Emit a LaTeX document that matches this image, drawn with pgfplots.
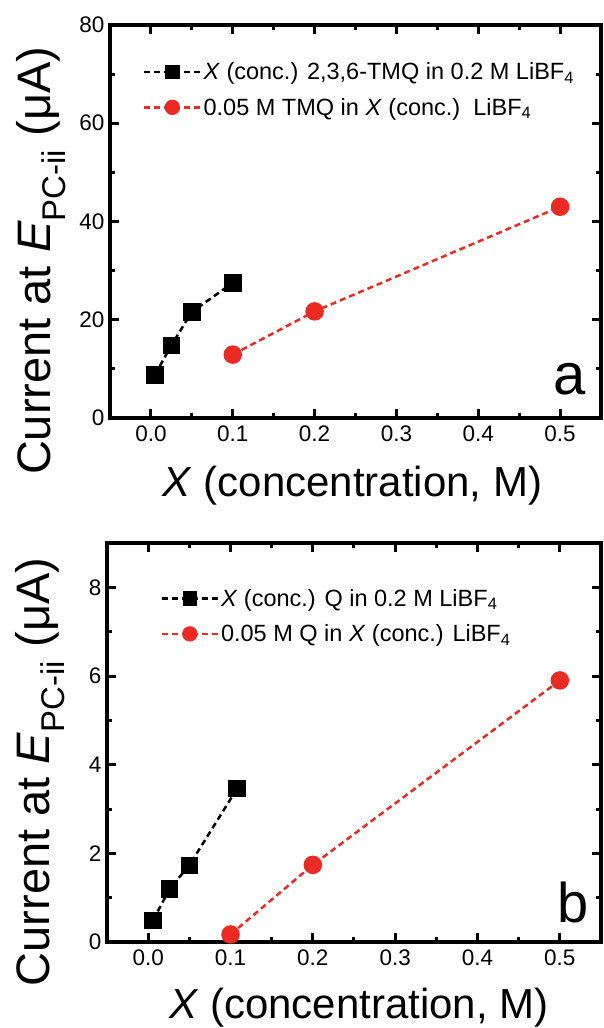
\documentclass[border=0pt]{standalone}
\usepackage{fontspec}
\setmainfont{Liberation Sans}
\usepackage{pgfplots}
\pgfplotsset{compat=1.18}
\definecolor{myred}{RGB}{235,42,36}

\pgfplotstableread{
x y
0.005 8.8
0.025 14.8
0.05 21.6
0.1 27.5
}\tmqblack
\pgfplotstableread{
x y
0.1 12.9
0.2 21.7
0.5 43.0
}\tmqred
\pgfplotstableread{
x y
0.006 0.49
0.026 1.20
0.05 1.73
0.108 3.46
}\qblack
\pgfplotstableread{
x y
0.1 0.17
0.2 1.74
0.5 5.90
}\qred

\pgfplotsset{
  myaxis/.style={
    scale only axis,
    xmin=-0.05, xmax=0.55,
    xtick={0,0.1,0.2,0.3,0.4,0.5},
    minor xtick={-0.05,0.05,0.15,0.25,0.35,0.45,0.55},
    tick align=inside,
    xtick pos=both, ytick pos=both,
    axis line style={line width=3.5pt},
    major tick length=9pt, minor tick length=5pt,
    every tick/.style={black, line width=3pt},
    /pgf/number format/assume math mode=true,
    xticklabel style={/pgf/number format/.cd, fixed, fixed zerofill, precision=1, /tikz/.cd,
      font=\fontsize{22.5}{22.5}\selectfont, yshift=-4pt},
    yticklabel style={font=\fontsize{22.5}{22.5}\selectfont, xshift=-2pt},
    xlabel style={font=\fontsize{42}{42}\selectfont},
    ylabel style={font=\fontsize{47}{47}\selectfont},
    legend cell align=left,
    legend style={draw=none, fill=none, font=\fontsize{23.5}{23.5}\selectfont,
      row sep=13pt, inner sep=0pt},
    legend image code/.code={
      \draw[mark repeat=2,mark phase=2,##1, every mark/.append style={scale=0.8}] plot coordinates {(0pt,0pt) (28pt,0pt) (56pt,0pt)};
    },
  },
  blk/.style={black, dash pattern=on 6pt off 4pt, line width=2.5pt,
    mark=square*, mark size=7.5pt, mark options={solid, fill=black}},
  rd/.style={myred, dash pattern=on 6pt off 4pt, line width=2.5pt,
    mark=*, mark size=8pt, mark options={solid, fill=myred, draw=myred}},
}

\begin{document}
\begin{tikzpicture}[x=1pt,y=1pt]
\path[use as bounding box] (0,0) rectangle (603,1028);
% panel a
\begin{axis}[myaxis,
  at={(110pt,610pt)}, anchor=south west,
  width=491pt, height=393pt,
  ymin=0, ymax=80,
  ytick={0,20,40,60,80},
  minor ytick={10,30,50,70},
  xlabel={\textit{X} (concentration, M)},
  ylabel={Current at \textit{E}\textsubscript{PC-ii} (μA)},
  xlabel style={at={(axis description cs:0.494,0)}, anchor=base, yshift=-79pt},
  ylabel style={at={(axis description cs:-0.122,0.40)}, anchor=base, rotate=0},
  legend style={at={(axis description cs:0.067,0.91)}, anchor=north west},
]
\addplot[blk] table[x=x,y=y] {\tmqblack};
\addlegendentry{\textit{X} (conc.) 2,3,6-TMQ in 0.2 M LiBF\textsubscript{4}}
\addplot[rd] table[x=x,y=y] {\tmqred};
\addlegendentry{0.05 M TMQ in \textit{X} (conc.)\ \ LiBF\textsubscript{4}}
\node[anchor=base east, font=\fontsize{58}{58}\selectfont, inner sep=0pt] at (axis description cs:0.97,0.06) {a};
\end{axis}
% panel b
\begin{axis}[myaxis,
  at={(107pt,86pt)}, anchor=south west,
  width=494pt, height=399pt,
  ymin=0, ymax=9,
  ytick={0,2,4,6,8},
  minor ytick={1,3,5,7,9},
  xlabel={\textit{X} (concentration, M)},
  ylabel={Current at \textit{E}\textsubscript{PC-ii} (μA)},
  xlabel style={at={(axis description cs:0.51,0)}, anchor=base, yshift=-76pt},
  ylabel style={at={(axis description cs:-0.116,0.426)}, anchor=base, rotate=0},
  legend style={at={(axis description cs:0.108,0.89)}, anchor=north west},
]
\addplot[blk] table[x=x,y=y] {\qblack};
\addlegendentry{\textit{X} (conc.) Q in 0.2 M LiBF\textsubscript{4}}
\addplot[rd] table[x=x,y=y] {\qred};
\addlegendentry{0.05 M Q in \textit{X} (conc.) LiBF\textsubscript{4}}
\node[anchor=base east, font=\fontsize{56}{56}\selectfont, inner sep=0pt] at (axis description cs:0.975,0.05) {b};
\end{axis}
\end{tikzpicture}
\end{document}
